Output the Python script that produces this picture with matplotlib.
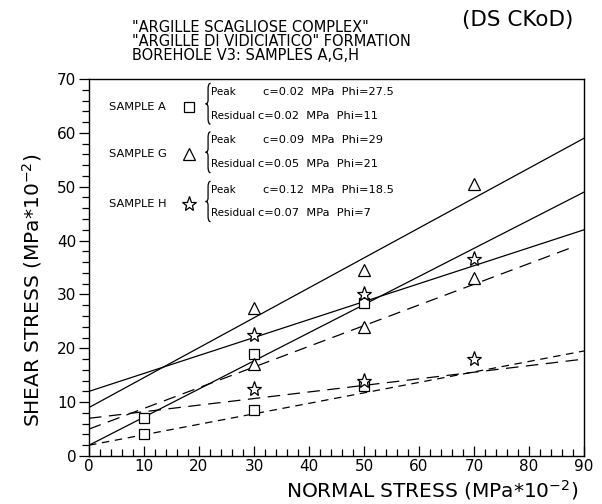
import matplotlib
matplotlib.use("Agg")
import matplotlib.pyplot as plt
from matplotlib.path import Path
from matplotlib.patches import PathPatch
from matplotlib.ticker import MultipleLocator

# ---------------- data ----------------
x_A = [10, 30, 50]
A_peak = [7, 19, 28.5]
A_res = [4, 8.5, 13]

x_GH = [30, 50, 70]
G_peak = [27.5, 34.5, 50.5]
G_res = [17, 24, 33]
H_peak = [22.5, 30, 36.5]
H_res = [12.5, 14, 18]

# fitted envelope lines: end points
fit_x = [0, 90]
A_peak_fit = [2, 49]
A_res_fit = [2, 19.5]
G_peak_fit = [9, 59]
G_res_fit_x = [0, 88]
G_res_fit = [5, 38.8]
H_peak_fit = [12, 42]
H_res_fit = [7, 18]

samples = ["SAMPLE A", "SAMPLE G", "SAMPLE H"]
markers = ["s", "^", "*"]
peak_txt = ["c=0.02  MPa  Phi=27.5", "c=0.09  MPa  Phi=29", "c=0.12  MPa  Phi=18.5"]
res_txt = ["c=0.02  MPa  Phi=11", "c=0.05  MPa  Phi=21", "c=0.07  MPa  Phi=7"]

title_lines = ['"ARGILLE SCAGLIOSE COMPLEX"',
               '"ARGILLE DI VIDICIATICO" FORMATION',
               'BOREHOLE V3: SAMPLES A,G,H']

W, H = 602, 504
fig = plt.figure(figsize=(W / 100, H / 100), dpi=100)
L, R, T, B = 89, 584, 79, 456
ax = fig.add_axes([L / W, 1 - B / H, (R - L) / W, (B - T) / H])

lw = 0.9
k = "black"
# lines
ax.plot(fit_x, A_peak_fit, color=k, lw=lw)
ax.plot(fit_x, G_peak_fit, color=k, lw=lw)
ax.plot(fit_x, H_peak_fit, color=k, lw=lw)
ax.plot(fit_x, A_res_fit, color=k, lw=lw, dashes=(6, 4.5))
ax.plot(G_res_fit_x, G_res_fit, color=k, lw=lw, dashes=(10, 6))
ax.plot(fit_x, H_res_fit, color=k, lw=lw, dashes=(10, 6))

mk = dict(color=k, mfc="white", mec=k, mew=0.9, ls="none", zorder=5)
ax.plot(x_A, A_peak, marker="s", ms=7, **mk)
ax.plot(x_A, A_res, marker="s", ms=7, **mk)
ax.plot(x_GH, G_peak, marker="^", ms=8.5, **mk)
ax.plot(x_GH, G_res, marker="^", ms=8.5, **mk)
ax.plot(x_GH, H_peak, marker="*", ms=11, **mk)
ax.plot(x_GH, H_res, marker="*", ms=11, **mk)

ax.set_xlim(0, 90)
ax.set_ylim(0, 70)
ax.xaxis.set_major_locator(MultipleLocator(10))
ax.xaxis.set_minor_locator(MultipleLocator(2))
ax.yaxis.set_major_locator(MultipleLocator(10))
ax.yaxis.set_minor_locator(MultipleLocator(2))
ax.tick_params(axis="x", which="major", direction="in", length=7, width=0.9,
               labelsize=11, pad=2)
ax.tick_params(axis="x", which="minor", direction="in", length=5, width=0.9)
ax.tick_params(axis="y", which="major", direction="out", length=7, width=0.9,
               labelsize=11, pad=2)
ax.tick_params(axis="y", which="minor", direction="out", length=5, width=0.9)
for s in ax.spines.values():
    s.set_linewidth(1.0)

# legend block (inside axes)
lab_y = [64.8, 56.0, 46.8]
pk_y = [67.6, 58.6, 49.4]
rs_y = [63.2, 54.2, 45.1]
msz = [7, 8.5, 11]
fs = 8.2
fs2 = 7.5
for i in range(3):
    ax.text(3.6, lab_y[i], samples[i], fontsize=fs, va="center", ha="left")
    ax.plot([18.2], [lab_y[i]], marker=markers[i], ms=msz[i], **mk)
    y0, y1 = rs_y[i] - 1.6, pk_y[i] + 1.6
    ym = (y0 + y1) / 2
    xb, w = 21.2, 0.9
    verts = [(xb + w, y1), (xb + w / 2, y1), (xb + w / 2, y1 - 1.0),
             (xb + w / 2, ym + 0.7),
             (xb + w / 2, ym), (xb, ym),
             (xb + w / 2, ym), (xb + w / 2, ym - 0.7),
             (xb + w / 2, y0 + 1.0),
             (xb + w / 2, y0), (xb + w, y0)]
    codes = [Path.MOVETO, Path.CURVE3, Path.CURVE3, Path.LINETO,
             Path.CURVE3, Path.CURVE3, Path.CURVE3, Path.CURVE3,
             Path.LINETO, Path.CURVE3, Path.CURVE3]
    ax.add_patch(PathPatch(Path(verts, codes), fill=False, lw=0.9, ec=k))
    ax.text(22.2, pk_y[i], "Peak", fontsize=fs2, va="center", ha="left")
    ax.text(31.6, pk_y[i], peak_txt[i], fontsize=fs, va="center", ha="left")
    ax.text(22.2, rs_y[i], "Residual", fontsize=fs2, va="center", ha="left")
    ax.text(30.8, rs_y[i], res_txt[i], fontsize=fs, va="center", ha="left")

# titles
for j, t in enumerate(title_lines):
    fig.text(132 / W, 1 - (28 + 14 * j) / H, t, fontsize=10.5, va="center", ha="left")
fig.text(462 / W, 1 - 20 / H, "(DS CKoD)", fontsize=15.5, va="center", ha="left")

fig.text(578 / W, 1 - 490 / H, r"NORMAL STRESS (MPa*10$^{-2}$)", fontsize=14.5,
         va="center", ha="right")
fig.text(32 / W, 1 - 290 / H, r"SHEAR STRESS (MPa*10$^{-2}$)", fontsize=14.5,
         va="center", ha="center", rotation=90)

fig.savefig("out.png", dpi=100)
